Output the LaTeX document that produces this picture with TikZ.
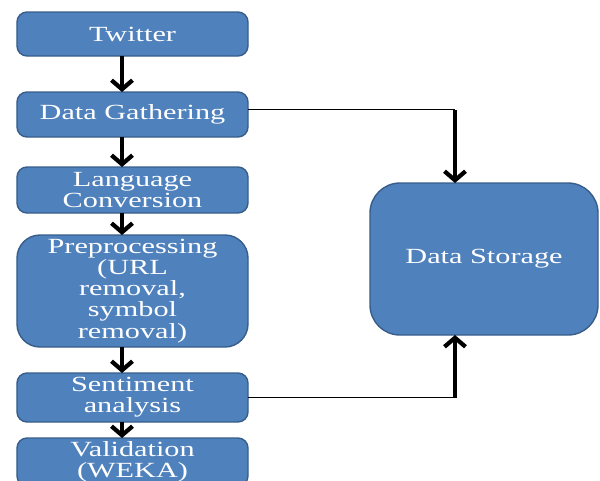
\documentclass[tikz,border=0pt]{standalone}
\usepackage{fontspec}
\usepackage{xcolor}
\usetikzlibrary{arrows.meta,positioning,calc}
\newfontfamily\boxfont[FakeStretch=1.4]{Liberation Serif}
\definecolor{BoxFill}{HTML}{4F81BD}
\definecolor{BoxLine}{HTML}{385D8A}
\tikzset{
  stage/.style={draw=BoxLine,fill=BoxFill,line width=0.8pt,rounded corners=#1,minimum width=4.62cm,align=center,text=white,font=\boxfont\fontsize{12.3}{12}\selectfont,inner sep=0pt,outer sep=0pt},
  stage/.default=0.2cm,
  flow/.style={-{Straight Barb[length=1.8mm,width=4.2mm]},draw=black,line width=2.4pt},
  link/.style={draw=black,line width=1.1pt}
}

\begin{document}
\begin{tikzpicture}[node distance=0.72cm]
  \useasboundingbox (0,0) rectangle (12,-9.6);
  \clip (0,0) rectangle (12,-9.6);
  \node[stage,minimum height=0.88cm] (twitter) at (2.65,-0.68) {Twitter};
  \node[stage,minimum height=0.9cm,below=0.72cm of twitter] (gather) {Data Gathering};
  \node[stage,minimum height=0.92cm,below=0.6cm of gather] (lang) {Language\\Conversion};
  \node[stage=0.46cm,minimum height=2.24cm,below=0.44cm of lang] (prep) {Preprocessing\\(URL\\removal,\\symbol\\removal)};
  \node[stage,minimum height=0.98cm,below=0.52cm of prep] (senti) {Sentiment\\analysis};
  \node[stage,minimum height=0.96cm,below=0.32cm of senti] (valid) {Validation\\(WEKA)};
  \node[stage=0.6cm,minimum width=4.56cm,minimum height=3.04cm] (storage) at (9.68,-5.18) {Data Storage};
  % main flow
  \draw[flow] ([xshift=-0.21cm]twitter.south) -- ([xshift=-0.21cm]gather.north);
  \draw[flow] ([xshift=-0.21cm]gather.south) -- ([xshift=-0.21cm]lang.north);
  \draw[flow] ([xshift=-0.21cm]lang.south) -- ([xshift=-0.21cm]prep.north);
  \draw[flow] ([xshift=-0.21cm]prep.south) -- ([xshift=-0.21cm]senti.north);
  \draw[flow] ([xshift=-0.21cm]senti.south) -- ([xshift=-0.21cm]valid.north);
  % into storage
  \coordinate (intake) at ($(storage.north |- gather.east)+(-0.58,0.1)$);
  \coordinate (outlet) at ($(storage.south |- senti.east)+(-0.58,0)$);
  \draw[link] ([yshift=0.1cm]gather.east) -- (intake);
  \draw[flow] (intake) -- (intake |- storage.north);
  \draw[link] (senti.east) -- (outlet);
  \draw[flow] (outlet) -- (outlet |- storage.south);
\end{tikzpicture}
\end{document}
